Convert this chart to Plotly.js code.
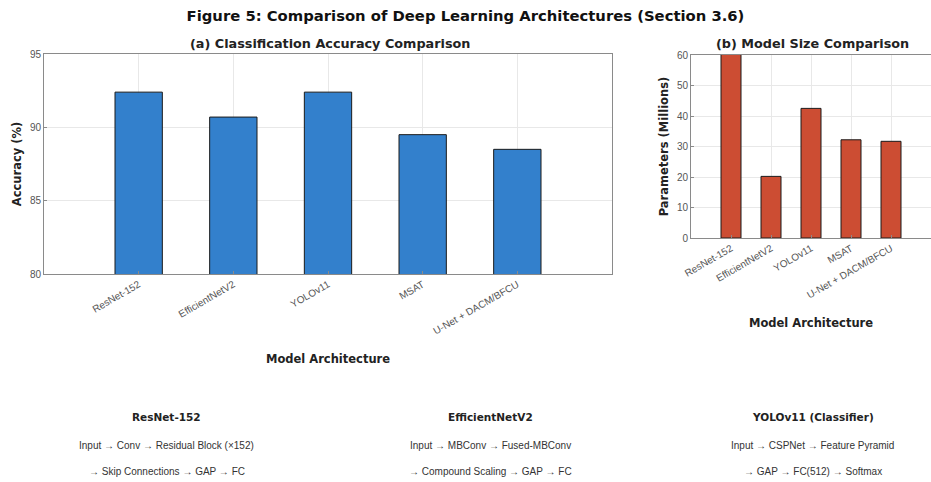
<!DOCTYPE html>
<html>
<head>
<meta charset="utf-8">
<script src="https://cdn.plot.ly/plotly-3.0.1.min.js"></script>
<style>
  html, body { margin: 0; padding: 0; background: #fff; }
  #chart { width: 931px; height: 482px; }
</style>
</head>
<body>
<div id="chart"></div>
<script>
// Model names shared by both panels
const models = ['ResNet-152', 'EfficientNetV2', 'YOLOv11', 'MSAT', 'U-Net + DACM/BFCU'];

// (a) classification accuracy, percent
const accuracy = [92.4, 90.7, 92.4, 89.5, 88.5];

// (b) parameter count, millions
const params = [60.2, 20.2, 42.5, 32.2, 31.7];

// Architecture summaries printed under the charts
const archNames = ['ResNet-152', 'EfficientNetV2', 'YOLOv11 (Classifier)'];
const archLine1 = [
  'Input \u2192 Conv \u2192 Residual Block (\u00d7152)',
  'Input \u2192 MBConv \u2192 Fused-MBConv',
  'Input \u2192 CSPNet \u2192 Feature Pyramid'
];
const archLine2 = [
  '\u2192 Skip Connections \u2192 GAP \u2192 FC',
  '\u2192 Compound Scaling \u2192 GAP \u2192 FC',
  '\u2192 GAP \u2192 FC(512) \u2192 Softmax'
];
const archX = [0.179, 0.527, 0.873];

const FONT = 'Liberation Sans, Arial, Helvetica, sans-serif';
const BOLD = 'DejaVu Sans, Liberation Sans, Arial, sans-serif';

const traces = [
  {
    type: 'bar', x: models, y: accuracy, width: 0.5,
    marker: { color: '#3380cc', line: { color: '#1a1a1a', width: 1 } },
    xaxis: 'x', yaxis: 'y', hoverinfo: 'x+y'
  },
  {
    type: 'bar', x: models, y: params, width: 0.5,
    marker: { color: '#cc4d33', line: { color: '#1a1a1a', width: 1 } },
    xaxis: 'x2', yaxis: 'y2', hoverinfo: 'x+y'
  }
];

const axisCommon = {
  showline: true, mirror: true, linecolor: '#8a8a8a', linewidth: 1,
  showgrid: true, gridcolor: '#e8e8e8', gridwidth: 1,
  ticks: 'inside', ticklen: 3, tickcolor: '#8a8a8a',
  tickfont: { family: FONT, size: 10, color: '#555' },
  zeroline: false, fixedrange: true
};

const titleFont = { family: BOLD, size: 11.5, color: '#222', weight: 'bold' };

const annotations = [
  {
    text: '<b>(a) Classification Accuracy Comparison</b>',
    xref: 'paper', yref: 'paper', x: 0.354, y: 0.909,
    xanchor: 'center', yanchor: 'middle', showarrow: false,
    font: { family: BOLD, size: 12.8, color: '#222' }
  },
  {
    text: '<b>(b) Model Size Comparison</b>',
    xref: 'paper', yref: 'paper', x: 0.873, y: 0.909,
    xanchor: 'center', yanchor: 'middle', showarrow: false,
    font: { family: BOLD, size: 12.8, color: '#222' }
  }
];

archNames.forEach((name, i) => {
  annotations.push({
    text: '<b>' + name + '</b>', xref: 'paper', yref: 'paper',
    x: archX[i], y: 1 - 417 / 482, xanchor: 'center', yanchor: 'middle',
    showarrow: false, font: { family: BOLD, size: 10.5, color: '#222' }
  });
  annotations.push({
    text: archLine1[i], xref: 'paper', yref: 'paper',
    x: archX[i], y: 1 - 445 / 482, xanchor: 'center', yanchor: 'middle',
    showarrow: false, font: { family: FONT, size: 10, color: '#333' }
  });
  annotations.push({
    text: archLine2[i], xref: 'paper', yref: 'paper',
    x: archX[i], y: 1 - 471 / 482, xanchor: 'center', yanchor: 'middle',
    showarrow: false, font: { family: FONT, size: 10, color: '#333' }
  });
});

const layout = {
  width: 931, height: 482,
  margin: { l: 0, r: 0, t: 0, b: 0 },
  paper_bgcolor: '#fff', plot_bgcolor: '#fff',
  showlegend: false,
  font: { family: FONT, color: '#222' },
  title: {
    text: '<b>Figure 5: Comparison of Deep Learning Architectures (Section 3.6)</b>',
    x: 0.5, xanchor: 'center', y: 1 - 16 / 482, yanchor: 'middle',
    font: { family: BOLD, size: 14.8, color: '#111' }
  },
  xaxis: Object.assign({}, axisCommon, {
    domain: [44 / 931, 612 / 931], anchor: 'y',
    range: [-1, 5], tickangle: -30,
    title: { text: 'Model Architecture', font: titleFont, standoff: 19 }
  }),
  yaxis: Object.assign({}, axisCommon, {
    domain: [1 - 274 / 482, 1 - 54 / 482], anchor: 'x',
    range: [80, 95], dtick: 5,
    title: { text: 'Accuracy (%)', font: titleFont, standoff: 5 }
  }),
  xaxis2: Object.assign({}, axisCommon, {
    domain: [691 / 931, 1], anchor: 'y2',
    range: [-1, 5], tickangle: -30,
    title: { text: 'Model Architecture', font: titleFont, standoff: 19 }
  }),
  yaxis2: Object.assign({}, axisCommon, {
    domain: [1 - 238 / 482, 1 - 55 / 482], anchor: 'x2',
    range: [0, 60], dtick: 10,
    title: { text: 'Parameters (Millions)', font: titleFont, standoff: 5 }
  }),
  annotations: annotations
};

Plotly.newPlot('chart', traces, layout, { displayModeBar: false, staticPlot: true });
</script>
</body>
</html>
